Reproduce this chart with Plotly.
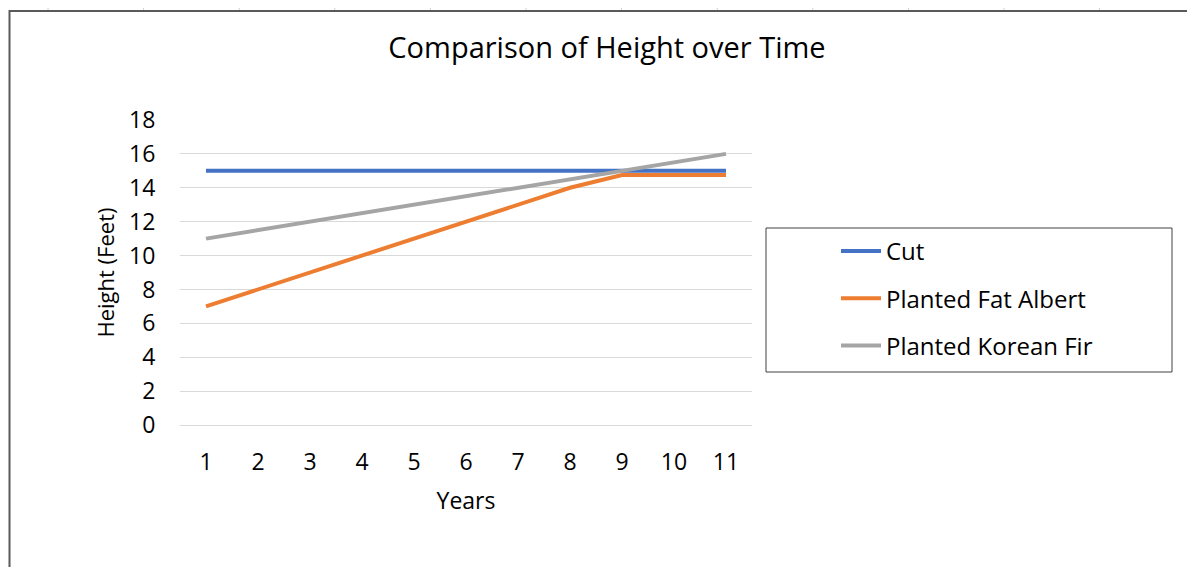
import plotly.graph_objects as go

years = [1, 2, 3, 4, 5, 6, 7, 8, 9, 10, 11]
cut = [15, 15, 15, 15, 15, 15, 15, 15, 15, 15, 15]
fat_albert = [7, 8, 9, 10, 11, 12, 13, 14, 14.75, 14.75, 14.75]
korean_fir = [11, 11.5, 12, 12.5, 13, 13.5, 14, 14.5, 15, 15.5, 16]
y_ticks = [0, 2, 4, 6, 8, 10, 12, 14, 16, 18]

FONT = "Open Sans"
OFF = 8  # page body margin
W, H = 1195 - OFF, 567 - OFF
# plot area in reference-screen pixels
RL, RR, RT, RB = 180, 752, 120, 425
L, R, T, B = RL - OFF, RR - OFF, RT - OFF, RB - OFF

def px(x):  # reference screen x -> paper
    return (x - OFF - L) / (R - L)

def py(y):  # reference screen y -> paper
    return (B - (y - OFF)) / (B - T)

fig = go.Figure()
series = [("Cut", cut, "#4472C4"),
          ("Planted Fat Albert", fat_albert, "#ED7D31"),
          ("Planted Korean Fir", korean_fir, "#A5A5A5")]
for i, (name, vals, col) in enumerate(series):
    fig.add_trace(go.Scatter(x=years, y=vals, name=name, mode="lines",
                             line=dict(color=col, width=4),
                             legendgroup=f"g{i}"))

shapes = []
# legend box
shapes.append(dict(type="rect", xref="paper", yref="paper",
                   x0=px(766), x1=px(1172), y0=py(372), y1=py(228),
                   line=dict(color="#404040", width=1), fillcolor="rgba(0,0,0,0)"))
# sheet frame
shapes.append(dict(type="line", xref="paper", yref="paper",
                   x0=px(9), x1=px(1200), y0=py(11), y1=py(11),
                   line=dict(color="#5a5a5a", width=2)))
shapes.append(dict(type="line", xref="paper", yref="paper",
                   x0=px(9.5), x1=px(9.5), y0=py(10), y1=py(570),
                   line=dict(color="#5a5a5a", width=2)))
for xx in [48 + 95.6 * k for k in range(13)]:
    if xx < 1195:
        shapes.append(dict(type="line", xref="paper", yref="paper",
                           x0=px(xx), x1=px(xx), y0=py(6), y1=py(10),
                           line=dict(color="#d0d0d0", width=1)))

fig.update_layout(
    width=W, height=H,
    margin=dict(l=L, r=W - R, t=T, b=H - B, pad=0),
    paper_bgcolor="white", plot_bgcolor="white",
    font=dict(family=FONT, color="#000000"),
    title=dict(text="Comparison of Height over Time", x=(607 - OFF) / W, xanchor="center",
               y=1 - (48 - OFF) / H, yanchor="middle", font=dict(size=29, family=FONT, color="#000")),
    showlegend=True,
    legend=dict(x=px(836), xanchor="left", y=py(229), yanchor="top",
                bgcolor="rgba(0,0,0,0)", borderwidth=0,
                font=dict(size=24, family=FONT, color="#000"),
                traceorder="grouped", tracegroupgap=13, itemwidth=40),
    shapes=shapes,
)
fig.update_xaxes(range=[0.5, 11.5], tickmode="array", tickvals=years,
                 ticktext=[str(v) for v in years],
                 showgrid=False, zeroline=False, showline=True, linecolor="#d9d9d9", linewidth=1,
                 ticks="outside", ticklen=16, tickcolor="rgba(0,0,0,0)",
                 tickfont=dict(size=23, family=FONT, color="#000"),
                 title=dict(text="Years", font=dict(size=23, family=FONT, color="#000"), standoff=17),
                 fixedrange=True)
fig.update_yaxes(range=[0, 18], tickmode="array", tickvals=y_ticks,
                 showgrid=True, gridcolor="#d9d9d9", gridwidth=1, zeroline=False,
                 ticks="outside", ticklen=19, tickcolor="rgba(0,0,0,0)",
                 tickfont=dict(size=23, family=FONT, color="#000"),
                 title=dict(text="Height (Feet)", font=dict(size=22, family=FONT, color="#000"), standoff=8),
                 fixedrange=True)

fig.write_html("out.html")
